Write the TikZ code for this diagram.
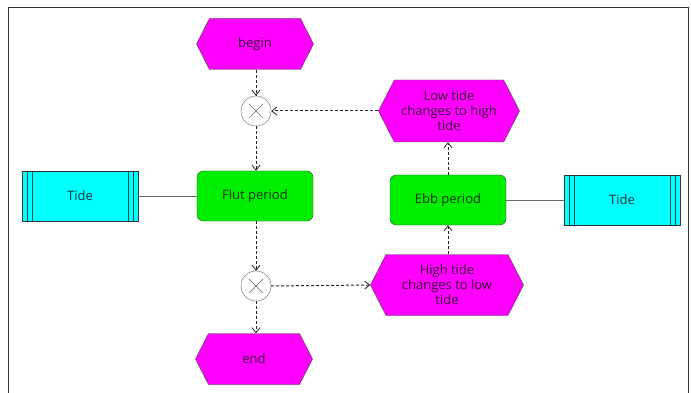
\documentclass[tikz,border=0pt]{standalone}
\usepackage{fontspec}
\setmainfont{Open Sans}
\usetikzlibrary{shapes.symbols,arrows.meta}
\definecolor{evmag}{HTML}{FF00FF}
\definecolor{fngreen}{HTML}{00EE00}
\definecolor{tidecyan}{HTML}{00FFFF}
\definecolor{edgegray}{HTML}{404040}
\begin{document}
\begin{tikzpicture}[x=1pt,y=-1pt,
  font=\fontsize{13}{15}\selectfont,
  event/.style={shape=signal, signal to=east and west, signal pointer angle=126,
    draw=edgegray, fill=evmag, text=black!80!evmag, align=center, inner sep=1pt,
    minimum width=117pt, minimum height=51pt},
  func/.style={draw=edgegray, fill=fngreen, rounded corners=6pt, text=black!80!fngreen,
    minimum width=116pt, minimum height=50pt, inner sep=1pt},
  tidebox/.style={draw=black!80, fill=tidecyan, text=black!80!tidecyan, minimum width=116pt, minimum height=50pt,
    path picture={
      \draw[black!70!tidecyan] ([xshift=5pt]path picture bounding box.north west) -- ([xshift=5pt]path picture bounding box.south west);
      \draw[black!70!tidecyan] ([xshift=10pt]path picture bounding box.north west) -- ([xshift=10pt]path picture bounding box.south west);
      \draw[black!70!tidecyan] ([xshift=-5pt]path picture bounding box.north east) -- ([xshift=-5pt]path picture bounding box.south east);
      \draw[black!70!tidecyan] ([xshift=-10pt]path picture bounding box.north east) -- ([xshift=-10pt]path picture bounding box.south east);}},
  xorc/.style={circle, draw=black!60, fill=white, minimum size=30pt, inner sep=0pt,
    path picture={
      \draw[black!60] ([shift={(-7pt,-7pt)}]path picture bounding box.center) -- ([shift={(7pt,7pt)}]path picture bounding box.center);
      \draw[black!60] ([shift={(-7pt,7pt)}]path picture bounding box.center) -- ([shift={(7pt,-7pt)}]path picture bounding box.center);}},
  flow/.style={draw=black!85, dashed, dash pattern=on 3pt off 2pt, line width=1pt,
    -{Straight Barb[length=5pt,width=8pt,line width=0.8pt]}},
  assoc/.style={draw=black!60, line width=1pt}
]
\useasboundingbox (0,0) rectangle (691,393);
\draw[black!80, line width=0.8pt] (8,393) -- (8,7.5) -- (688,7.5) -- (688,393);

\node[event] (begin) at (255,44) {begin};
\node[xorc] (x1) at (256,111) {};
\node[func] (flut) at (255,196) {Flut period};
\node[tidebox] (tide1) at (80,196) {Tide};
\node[xorc] (x2) at (256,286) {};
\node[event] (end) at (254,359) {end};
\node[event, minimum width=153pt, minimum height=61pt] (high) at (447,285) {High tide\\changes to low\\tide};
\node[func] (ebb) at (448,200) {Ebb period};
\node[tidebox] (tide2) at (622,200) {Tide};
\node[event, minimum width=141pt, minimum height=62pt] (low) at (449,111) {Low tide\\changes to high\\tide};

\draw[flow] (begin.south -| x1) -- (x1.north);
\draw[flow] (x1.south) -- (x1.south |- flut.north);
\draw[flow] (x2.north |- flut.south) -- (x2.north);
\draw[flow] (x2.south) -- (x2.south |- end.north);
\draw[flow] (x2.east) -- (high.west);
\draw[flow] (ebb.south |- high.north) -- (ebb.south);
\draw[flow] (ebb.north) -- (ebb.north |- low.south);
\draw[flow] (low.west) -- (x1.east);
\draw[assoc] (tide1.east) -- (flut.west);
\draw[assoc] (ebb.east) -- (tide2.west);
\end{tikzpicture}
\end{document}
